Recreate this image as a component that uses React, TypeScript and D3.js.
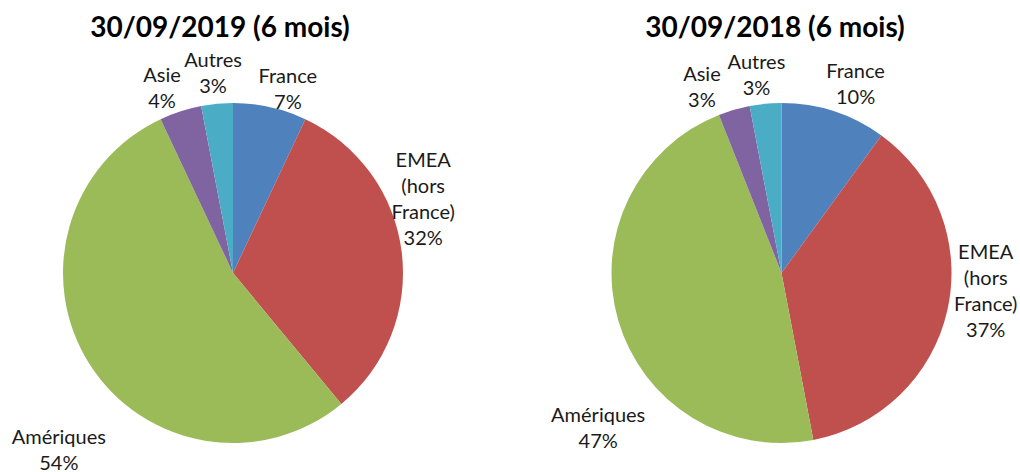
import React from "react";
import * as d3 from "d3";

// regions, clockwise from 12 o'clock
const regions = ["France", "EMEA (hors France)", "Amériques", "Asie", "Autres"];
const values2019 = [7, 32, 54, 4, 3];
const values2018 = [10, 37, 47, 3, 3];
const titles = ["30/09/2019 (6 mois)", "30/09/2018 (6 mois)"];

const colors = ["#4F81BD", "#C0504D", "#9BBB59", "#8064A2", "#4BACC6"];

const W = 1020;
const H = 472;
const R = 170;
const font = "Lato, 'Open Sans', sans-serif";

// label text lines (Excel wraps EMEA)
const labelLines: Record<string, string[]> = {
  France: ["France"],
  "EMEA (hors France)": ["EMEA", "(hors", "France)"],
  Amériques: ["Amériques"],
  Asie: ["Asie"],
  Autres: ["Autres"]
};

// label placement: [angle shift in degrees, radius] per slice, per chart
const labelLayout = [
  [[4, 192], [-14, 204], [-13, 248], [-3, 198], [-0.3, 201]],
  [[3.4, 203], [-7.6, 205], [-24, 240], [-7, 202], [-1.8, 200]]
];

const pie = d3
  .pie<number>()
  .value(d => d)
  .sort(null);

const arc = d3
  .arc<d3.PieArcDatum<number>>()
  .innerRadius(0)
  .outerRadius(R);

const Pie = ({ cx, cy, values, title, titleX, layout }) => {
  const slices = pie(values);
  const lineH = 26;
  return (
    <g>
      <text
        x={titleX}
        y={37}
        textAnchor="middle"
        fontFamily={font}
        fontWeight="bold"
        fontSize={28}
        fill="#000"
      >
        {title}
      </text>
      <g transform={`translate(${cx},${cy})`}>
        {slices.map((s, i) => (
          <path key={i} d={arc(s) || ""} fill={colors[i]} />
        ))}
        {slices.map((s, i) => {
          const [shift, rad] = layout[i];
          const mid = (s.startAngle + s.endAngle) / 2 + (shift * Math.PI) / 180;
          const x = rad * Math.sin(mid);
          const y = -rad * Math.cos(mid);
          const lines = [...labelLines[regions[i]], `${values[i]}%`];
          const top = y - ((lines.length - 1) * lineH) / 2;
          return (
            <text
              key={"l" + i}
              textAnchor="middle"
              fontFamily={font}
              fontSize={20}
              fill="#1a1a1a"
            >
              {lines.map((t, j) => (
                <tspan key={j} x={x} y={top + j * lineH} dy="0.35em">
                  {t}
                </tspan>
              ))}
            </text>
          );
        })}
      </g>
    </g>
  );
};

export default function App() {
  return (
    <svg
      width={W}
      height={H}
      style={{ position: "absolute", left: 0, top: 0, background: "#fff" }}
    >
      <Pie
        cx={233}
        cy={273}
        values={values2019}
        title={titles[0]}
        titleX={220}
        layout={labelLayout[0]}
      />
      <Pie
        cx={781.5}
        cy={273}
        values={values2018}
        title={titles[1]}
        titleX={775}
        layout={labelLayout[1]}
      />
    </svg>
  );
}
